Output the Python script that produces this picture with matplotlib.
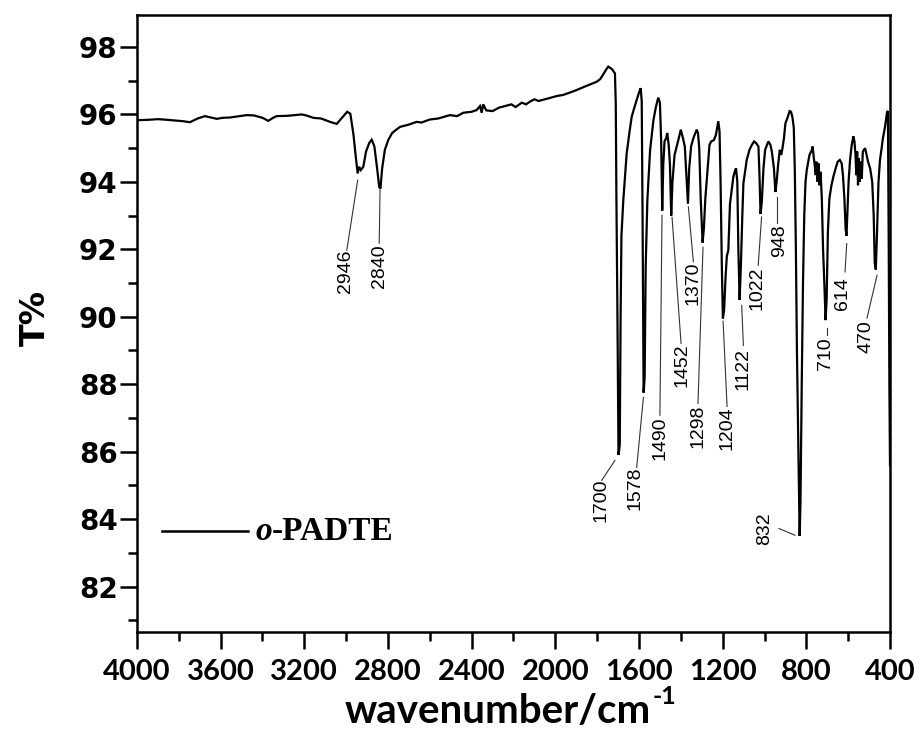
import matplotlib
matplotlib.use("Agg")
import matplotlib.pyplot as plt
from matplotlib.ticker import MultipleLocator

# ---------------- data ----------------
wavenumber = [
    4000, 3950, 3900, 3874, 3820, 3780, 3747, 3710, 3675, 3640, 3619, 3590, 3555, 3520,
    3476, 3440, 3400, 3372, 3350, 3332, 3280, 3213, 3190, 3157, 3120, 3077, 3045, 3020,
    2995, 2980, 2965, 2955, 2945, 2938, 2930, 2918, 2905, 2890, 2878, 2865, 2852, 2842,
    2836, 2828, 2815, 2799, 2780, 2760, 2743, 2700, 2663, 2640, 2600, 2560, 2504, 2470,
    2440, 2400, 2376, 2360, 2352, 2345, 2330, 2300, 2270, 2240, 2210, 2190, 2160, 2140,
    2121, 2100, 2080, 2050, 2020, 1990, 1962, 1930, 1900, 1870, 1850, 1830, 1802, 1785,
    1770, 1755, 1747, 1738, 1730, 1722, 1715, 1711, 1708, 1703, 1698, 1692, 1688, 1684,
    1675, 1659, 1645, 1635, 1620, 1611, 1600, 1592, 1587, 1583, 1578, 1573, 1568, 1560,
    1547, 1531, 1520, 1508, 1500, 1494, 1489, 1484, 1478, 1470, 1465, 1458, 1452, 1446,
    1440, 1430, 1412, 1400, 1390, 1381, 1372, 1366, 1360, 1351, 1340, 1324, 1318, 1312,
    1305, 1296, 1290, 1283, 1276, 1263, 1255, 1242, 1232, 1221, 1215, 1210, 1204, 1199,
    1193, 1186, 1180, 1173, 1165, 1149, 1140, 1136, 1130, 1125, 1119, 1113, 1106, 1101,
    1085, 1072, 1061, 1050, 1040, 1029, 1024, 1019, 1013, 1005, 997, 988, 981, 972,
    965, 955, 948, 942, 935, 927, 920, 914, 907, 900, 890, 880, 873, 866,
    860, 855, 850, 845, 838, 832, 828, 822, 816, 810, 804, 798, 785, 774,
    770, 764, 760, 755, 752, 746, 742, 737, 732, 726, 720, 714, 708, 703,
    697, 690, 680, 671, 660, 650, 640, 631, 625, 618, 612, 608, 603, 598,
    591, 583, 575, 570, 565, 561, 557, 553, 549, 545, 540, 535, 530, 525,
    519, 512, 505, 495, 485, 478, 473, 468, 463, 455, 448, 440, 435, 428,
    424, 418, 414, 410, 406, 403, 400,
]
transmittance = [
    95.83, 95.84, 95.86, 95.85, 95.82, 95.80, 95.77, 95.88, 95.95, 95.90, 95.87, 95.90, 95.91, 95.94,
    95.98, 95.97, 95.90, 95.81, 95.90, 95.95, 95.96, 96.00, 95.97, 95.90, 95.88, 95.78, 95.72, 95.90,
    96.08, 96.02, 95.40, 94.80, 94.25, 94.45, 94.35, 94.45, 94.90, 95.15, 95.25, 95.05, 94.40, 93.85,
    93.80, 94.40, 94.95, 95.24, 95.45, 95.55, 95.63, 95.70, 95.78, 95.76, 95.85, 95.88, 95.98, 95.95,
    96.05, 96.08, 96.13, 96.25, 96.05, 96.30, 96.12, 96.10, 96.20, 96.25, 96.30, 96.22, 96.35, 96.30,
    96.38, 96.45, 96.40, 96.45, 96.50, 96.55, 96.58, 96.65, 96.72, 96.80, 96.85, 96.90, 96.97, 97.05,
    97.20, 97.35, 97.42, 97.38, 97.35, 97.28, 97.22, 96.30, 93.50, 90.00, 85.90, 86.20, 90.00, 92.40,
    93.46, 94.84, 95.50, 95.93, 96.25, 96.43, 96.65, 96.78, 96.40, 93.00, 87.75, 88.20, 91.50, 93.46,
    94.94, 95.83, 96.20, 96.50, 96.35, 95.20, 93.15, 94.50, 95.20, 95.30, 95.45, 95.10, 94.50, 93.00,
    94.00, 94.80, 95.24, 95.55, 95.30, 95.05, 94.00, 93.35, 94.40, 95.05, 95.30, 95.55, 95.45, 95.00,
    93.50, 92.20, 92.60, 93.50, 94.05, 95.10, 95.20, 95.24, 95.40, 95.80, 95.50, 94.00, 91.50, 89.95,
    90.20, 91.20, 91.80, 91.97, 93.35, 94.15, 94.35, 94.40, 94.00, 92.00, 90.50, 91.50, 93.00, 93.95,
    94.65, 94.95, 95.09, 95.20, 95.15, 95.05, 94.20, 93.05, 93.40, 94.40, 94.95, 95.10, 95.20, 95.10,
    94.90, 94.40, 93.70, 94.00, 94.50, 94.95, 94.80, 95.00, 95.30, 95.74, 95.90, 96.10, 96.08, 95.90,
    95.60, 94.30, 92.00, 89.00, 86.00, 83.50, 84.50, 88.00, 91.00, 93.00, 94.00, 94.35, 94.80, 94.94,
    95.05, 94.70, 94.50, 94.20, 94.60, 94.00, 94.55, 93.90, 94.30, 93.50, 92.00, 91.00, 89.90, 90.50,
    92.50, 93.50, 93.90, 94.15, 94.40, 94.60, 94.65, 94.55, 94.20, 93.50, 92.60, 92.40, 93.20, 94.00,
    94.65, 95.10, 95.35, 95.20, 94.80, 94.20, 94.90, 93.90, 94.70, 94.00, 94.60, 94.10, 94.90, 94.95,
    95.00, 94.80, 94.60, 94.40, 94.00, 93.00, 91.60, 91.40, 92.30, 94.00, 94.65, 95.00, 95.25, 95.50,
    95.63, 95.90, 96.08, 96.10, 92.00, 88.00, 85.60,
]

x_ticks = [4000, 3600, 3200, 2800, 2400, 2000, 1600, 1200, 800, 400]
y_ticks = [82, 84, 86, 88, 90, 92, 94, 96, 98]

peak_labels = ["2946", "2840", "1700", "1578", "1490", "1452", "1370", "1298",
               "1204", "1122", "1022", "948", "832", "710", "614", "470"]
series_name = "PADTE"
series_prefix = "o"

# ---------------- layout of the peak annotations (data coords) ----------------
label_text_xy = [(3003, 91.34), (2841, 91.50), (1784, 84.55), (1617, 84.91),
                 (1502, 86.41), (1394, 88.56), (1344, 91.00), (1320, 86.75),
                 (1177, 86.71), (1105, 88.46), (1034, 90.86), (928, 92.27),
                 (1000, 83.72), (708, 88.90), (627, 90.68), (517, 89.41)]
leader_start = [(2997, 91.97), (2842, 92.18), (1778, 85.15), (1611, 85.53),
                (1500, 87.08), (1399, 89.21), (1340, 91.63), (1318, 87.43),
                (1179, 87.34), (1101, 89.15), (1030, 91.53), (939, 92.78),
                (931, 83.72), (703, 89.66), (615, 91.33), (510, 89.96)]
leader_end = [(2945, 94.05), (2838, 93.76), (1715, 85.74), (1579, 87.61),
              (1490, 93.01), (1442, 92.95), (1364, 93.26), (1294, 92.06),
              (1198, 89.87), (1109, 90.34), (1014, 92.96), (939, 93.56),
              (854, 83.52), (703, 89.45), (607, 92.17), (462, 91.23)]

# ---------------- figure ----------------
fig = plt.figure(figsize=(9.2, 7.38), dpi=100)
ax = fig.add_axes([0.1489, 0.1436, 0.8185, 0.8361])

ax.plot(wavenumber, transmittance, color='black', lw=1.6, solid_joinstyle='miter')

ax.set_xlim(4000, 400)
ax.set_ylim(80.65, 98.95)

for s in ax.spines.values():
    s.set_linewidth(1.8)

ax.set_xticks(x_ticks)
ax.set_xticklabels([str(v) for v in x_ticks], fontfamily='Lato', fontweight='bold', fontsize=21)
ax.set_yticks(y_ticks)
ax.set_yticklabels([str(v) for v in y_ticks], fontfamily='DejaVu Sans', fontweight='bold', fontsize=20)
ax.xaxis.set_minor_locator(MultipleLocator(200))
ax.yaxis.set_minor_locator(MultipleLocator(1))
ax.tick_params(which='major', direction='out', length=12, width=1.8, top=False, right=False)
ax.tick_params(which='minor', direction='out', length=6.5, width=1.8, top=False, right=False)
ax.tick_params(axis='x', which='major', pad=7.5)
ax.tick_params(axis='y', which='major', pad=2)

ax.set_xlabel("wavenumber/cm", fontfamily='Lato', fontweight='bold', fontsize=29)
ax.xaxis.set_label_coords(0.479, -0.128)
ax.xaxis.label.set_va('center')
ax.annotate("-1", xy=(1.0, 1.0), xycoords=ax.xaxis.label, xytext=(1, -3),
            textcoords='offset points', ha='left', va='center',
            fontfamily='Lato', fontweight='bold', fontsize=18)
ax.set_ylabel("T%", fontfamily='DejaVu Sans', fontweight='bold', fontsize=24)
ax.yaxis.set_label_coords(-0.1355, 0.509)
ax.yaxis.label.set_va('center')

for lbl, (tx, ty), (x0, y0), (x1, y1) in zip(peak_labels, label_text_xy, leader_start, leader_end):
    ax.text(tx, ty, lbl, rotation=90, ha='center', va='center',
            fontfamily='Liberation Sans', fontsize=14, color='black')
    ax.plot([x0, x1], [y0, y1], color='#333333', lw=0.8)

# legend drawn by hand
ax.plot([0.0332, 0.1474], [0.1637, 0.1637], transform=ax.transAxes, color='black', lw=1.8)
t1 = ax.text(0.1567, 0.1637, series_prefix, transform=ax.transAxes, ha='left', va='center',
             fontfamily='Liberation Serif', fontstyle='italic', fontweight='bold', fontsize=24)
ax.annotate("-" + series_name, xy=(1, 0), xycoords=t1, ha='left', va='bottom',
            fontfamily='Liberation Serif', fontweight='bold', fontsize=24)

fig.savefig("out.png", dpi=100)
